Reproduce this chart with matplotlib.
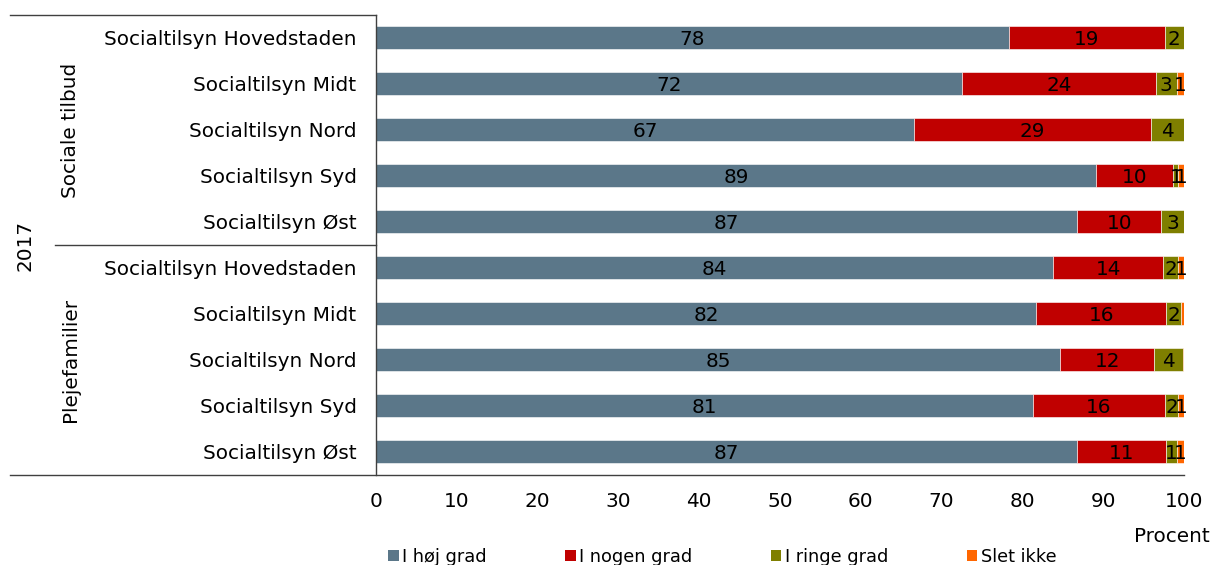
import matplotlib
matplotlib.use("Agg")
import matplotlib.pyplot as plt
import numpy as np
from matplotlib.patches import Patch

categories = ["Socialtilsyn Hovedstaden", "Socialtilsyn Midt", "Socialtilsyn Nord",
              "Socialtilsyn Syd", "Socialtilsyn Øst",
              "Socialtilsyn Hovedstaden", "Socialtilsyn Midt", "Socialtilsyn Nord",
              "Socialtilsyn Syd", "Socialtilsyn Øst"]
groups = ["Sociale tilbud", "Plejefamilier"]
year = "2017"
series_names = ["I høj grad", "I nogen grad", "I ringe grad", "Slet ikke"]
hoej = [78.3, 72.5, 66.6, 89.1, 86.8, 83.8, 81.7, 84.7, 81.3, 86.8]
nogen = [19.3, 24.0, 29.3, 9.6, 10.4, 13.6, 16.1, 11.6, 16.3, 11.0]
ringe = [2.4, 2.6, 4.1, 0.6, 2.8, 1.9, 1.8, 3.6, 1.7, 1.3]
slet = [0.0, 0.9, 0.0, 0.7, 0.0, 0.7, 0.4, 0.2, 0.7, 0.9]
xticks = [0, 10, 20, 30, 40, 50, 60, 70, 80, 90, 100]
colors = ["#5B7789", "#C00000", "#7F7F00", "#FF6600"]

W, H = 1212, 565
fig = plt.figure(figsize=(W / 100, H / 100), dpi=100)
ax = fig.add_axes([376 / W, 1 - 475 / H, (1184 - 376) / W, (475 - 15) / H])

FS = 14.4
y = np.arange(len(categories))
left = np.zeros(len(categories))
for name, vals, c in zip(series_names, [hoej, nogen, ringe, slet], colors):
    vals = np.array(vals)
    ax.barh(y, vals, left=left, height=0.5, color=c, edgecolor="white",
            linewidth=0.4, label=name)
    for yi, l, v in zip(y, left, vals):
        r = int(round(v))
        if r >= 1:
            ax.text(l + v / 2, yi + 0.04, str(r), ha="center", va="center",
                    fontsize=FS, color="black")
    left = left + vals

ax.set_xlim(0, 100)
ax.set_ylim(len(categories) - 0.5, -0.5)
ax.set_yticks(y)
ax.set_yticklabels(categories, fontsize=FS)
ax.set_xticks(xticks)
ax.set_xticklabels([str(t) for t in xticks], fontsize=FS)
ax.tick_params(axis="both", length=0)
ax.tick_params(axis="x", pad=12)
ax.tick_params(axis="y", pad=14)
for s in ["top", "right", "bottom"]:
    ax.spines[s].set_visible(False)
ax.spines["left"].set_color("#404040")
ax.spines["left"].set_linewidth(1)

tr = ax.get_yaxis_transform()
x0 = (10 - 376) / (1184 - 376)
x1 = (55 - 376) / (1184 - 376)
lc = "#404040"
ax.plot([x0, 0], [-0.5, -0.5], color=lc, lw=1, transform=tr, clip_on=False)
ax.plot([x0, 1], [9.5, 9.5], color=lc, lw=1, transform=tr, clip_on=False)
ax.plot([x1, 0], [4.5, 4.5], color=lc, lw=1, transform=tr, clip_on=False)

xg = (70 - 376) / (1184 - 376)
ax.text(xg, 2, groups[0], transform=tr, rotation=90, ha="center", va="center", fontsize=FS)
ax.text(xg, 7, groups[1], transform=tr, rotation=90, ha="center", va="center", fontsize=FS)
xy = (25 - 376) / (1184 - 376)
ax.text(xy, 4.5, year, transform=tr, rotation=90, ha="center", va="center", fontsize=FS)

fig.text(1172 / W, 1 - 537 / H, "Procent", ha="center", va="center", fontsize=FS)

handles = [Patch(facecolor=c, edgecolor="none") for c in colors]
fig.legend(handles, series_names, ncol=4, loc="center left",
           bbox_to_anchor=(388 / W, 1 - 557 / H), frameon=False, fontsize=12.8,
           handlelength=0.6, handleheight=0.6, handletextpad=0.2,
           columnspacing=4.4, borderpad=0, borderaxespad=0)

fig.savefig("out.png", dpi=100)
